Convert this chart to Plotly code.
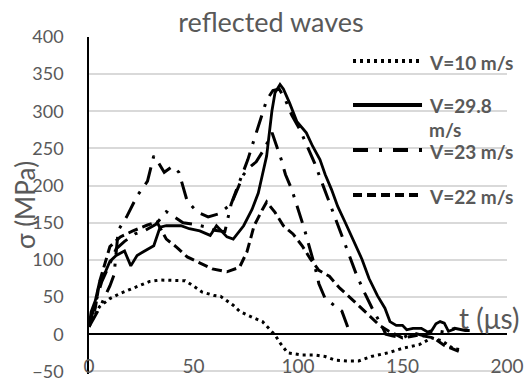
import plotly.graph_objects as go

# ---- data ----
t_v10 = [0, 2, 5, 10, 15, 20, 25, 29, 34, 41, 46, 50, 54, 60, 63, 69, 72, 78, 83, 86, 89, 91.5, 95, 102, 108, 113, 118, 124, 129, 135, 143, 150, 158, 164, 169, 174, 178]
s_v10 = [10, 22, 37, 48, 55, 61, 67, 71, 73, 72, 72, 65, 57, 52, 51, 39, 31, 23, 17, 8, -1, -12, -25, -28, -28, -30, -35, -36, -36, -30, -25, -19, -14, -5, -9, -19, -21]

t_v298 = [0, 1, 3, 5, 8, 10, 13, 17, 20, 23, 26, 31, 34, 37, 44, 48, 53, 58, 61, 66, 69, 74, 78, 81, 83, 85, 87.5, 89, 91.4, 93, 96, 99.5, 104, 107, 110.5, 113, 116, 119, 122.5, 127, 130.6, 134, 138, 141.6, 144, 147, 150, 152, 155, 159, 162, 164, 166, 168, 170, 172, 175]
s_v298 = [10, 30, 45, 70, 85, 98, 106, 112, 92, 106, 111, 119, 144, 146, 146, 142, 139, 133, 146, 131, 128, 146, 168, 190, 215, 240, 300, 325, 336, 330, 311, 286, 271, 253, 235, 215, 195, 172, 151, 124, 101, 75, 52, 35, 17, 12, 12, 6, 8, 8, 3, 5, 14, 17, 15, 4, 7]

t_v23 = [0, 3, 6, 10, 13, 17, 22, 27, 32, 37, 41, 45, 50, 55, 60, 65, 68, 72, 76, 79, 82, 85, 88, 91, 94, 97, 101, 104, 108, 112, 116, 120, 124, 128, 132, 136, 140, 142, 145, 150, 155, 160, 165, 170, 175, 180, 185]
s_v23 = [12, 40, 70, 95, 115, 125, 135, 140, 148, 165, 158, 150, 148, 145, 140, 138, 175, 205, 235, 262, 290, 315, 328, 330, 315, 295, 275, 255, 230, 200, 170, 140, 110, 80, 55, 32, 12, 0, -2, -5, 2, -2, 5, 3, 8, 5, 5]

t_v23b = [0, 5, 10, 12, 14, 18, 23, 28, 31, 33, 36, 40, 43, 47, 52, 57, 62, 68, 71, 74, 77, 80, 84, 87.6, 92, 94, 97, 101, 103, 108, 110, 113, 117, 121, 124]
s_v23b = [10, 35, 65, 80, 140, 158, 186, 206, 240, 232, 218, 226, 218, 179, 164, 158, 162, 175, 195, 215, 225, 232, 250, 271, 235, 215, 195, 159, 142, 92, 68, 48, 40, 31, 8]

t_v22 = [0, 3, 5, 7, 10, 15, 21, 28, 32.5, 37, 42, 47, 53, 59, 66, 72, 75.6, 79, 83, 85, 89, 93, 97.6, 102, 106, 110, 115, 120, 127, 134, 139, 143.5, 150, 154, 158, 165, 170, 177]
s_v22 = [12, 35, 70, 88, 118, 131, 139, 147, 151, 128, 117, 104, 96, 88, 84, 90, 111, 146, 168, 178, 164, 146, 135, 119, 101, 86, 78, 62, 44, 26, 12, 4, -5, -3, -1, -5, -15, -23]

y_ticks = [-50, 0, 50, 100, 150, 200, 250, 300, 350, 400]
x_ticks = [0, 50, 100, 150, 200]

legend_lines = [["V=10 m/s"], ["V=29.8", "m/s"], ["V=23 m/s"], ["V=22 m/s"]]

GREY = "#595959"
FONT = "Lato"

DOT = "3px,4px"
DASH = "10px,5px"
DASHDOT = "18px,9px,3px,9px"

fig = go.Figure()
fig.add_trace(go.Scatter(x=t_v10, y=s_v10, mode="lines", name="V=10 m/s",
                         line=dict(color="black", width=3, dash=DOT)))
fig.add_trace(go.Scatter(x=t_v298, y=s_v298, mode="lines", name="V=29.8 m/s",
                         line=dict(color="black", width=2.8)))
fig.add_trace(go.Scatter(x=t_v23, y=s_v23, mode="lines", name="V=23 m/s",
                         line=dict(color="black", width=3, dash=DASHDOT)))
fig.add_trace(go.Scatter(x=t_v23b, y=s_v23b, mode="lines", name="V=23 m/s (b)",
                         line=dict(color="black", width=3, dash=DASHDOT)))
fig.add_trace(go.Scatter(x=t_v22, y=s_v22, mode="lines", name="V=22 m/s",
                         line=dict(color="black", width=3, dash=DASH)))

# manual legend (positions in paper coordinates)
H = 337.0
def py(p):
    return (374 - p) / H

leg_y = [61, 105, 150, 195]
leg_dash = [DOT, "solid", "15px,11px,3px,11px", "9px,5px"]
for yy, dd, lines in zip(leg_y, leg_dash, legend_lines):
    fig.add_shape(type="line", xref="paper", yref="paper", x0=0.6316, x1=0.7967,
                  y0=py(yy), y1=py(yy), line=dict(color="black", width=4, dash=dd))
    for k, txt in enumerate(lines):
        fig.add_annotation(xref="paper", yref="paper", x=0.811, y=py(yy + 1 + 23 * k),
                           text="<b>" + txt + "</b>", showarrow=False, xanchor="left",
                           yanchor="middle", borderpad=0,
                           font=dict(family=FONT, size=19, color=GREY))

fig.add_annotation(xref="paper", yref="paper", x=(521 - 89) / 418, y=py(318), text="t (μs)",
                   showarrow=False, xanchor="right", yanchor="middle",
                   font=dict(family=FONT, size=28, color=GREY))
fig.add_annotation(xref="paper", yref="paper", x=-0.153, y=py(205), text="σ (MPa)",
                   textangle=-90, showarrow=False, xanchor="center", yanchor="middle",
                   font=dict(family=FONT, size=26, color=GREY))

fig.update_layout(
    width=524, height=381,
    margin=dict(l=89, r=17, t=37, b=7, autoexpand=False),
    paper_bgcolor="white", plot_bgcolor="white",
    showlegend=False,
    title=dict(text="reflected waves", x=271 / 524, xref="container", xanchor="center",
               y=1 - 23 / 381, yref="container", yanchor="middle",
               font=dict(family=FONT, size=27, color=GREY)),
    xaxis=dict(range=[0, 200], tickvals=x_ticks, showgrid=False, zeroline=False,
               showline=False, ticks="", anchor="free", position=py(353),
               ticklabeloverflow="allow", automargin=False,
               tickfont=dict(family=FONT, size=19, color=GREY)),
    yaxis=dict(range=[-53.5, 400], tickvals=y_ticks, showgrid=True, gridcolor="#d9d9d9", gridwidth=1.5,
               zeroline=True, zerolinecolor="black", zerolinewidth=1.5,
               showline=True, linecolor="black", linewidth=1.5, ticks="",
               ticklabelstandoff=20, ticklabeloverflow="allow", automargin=False,
               tickfont=dict(family=FONT, size=18, color=GREY)),
)

fig.write_html("out.html")
